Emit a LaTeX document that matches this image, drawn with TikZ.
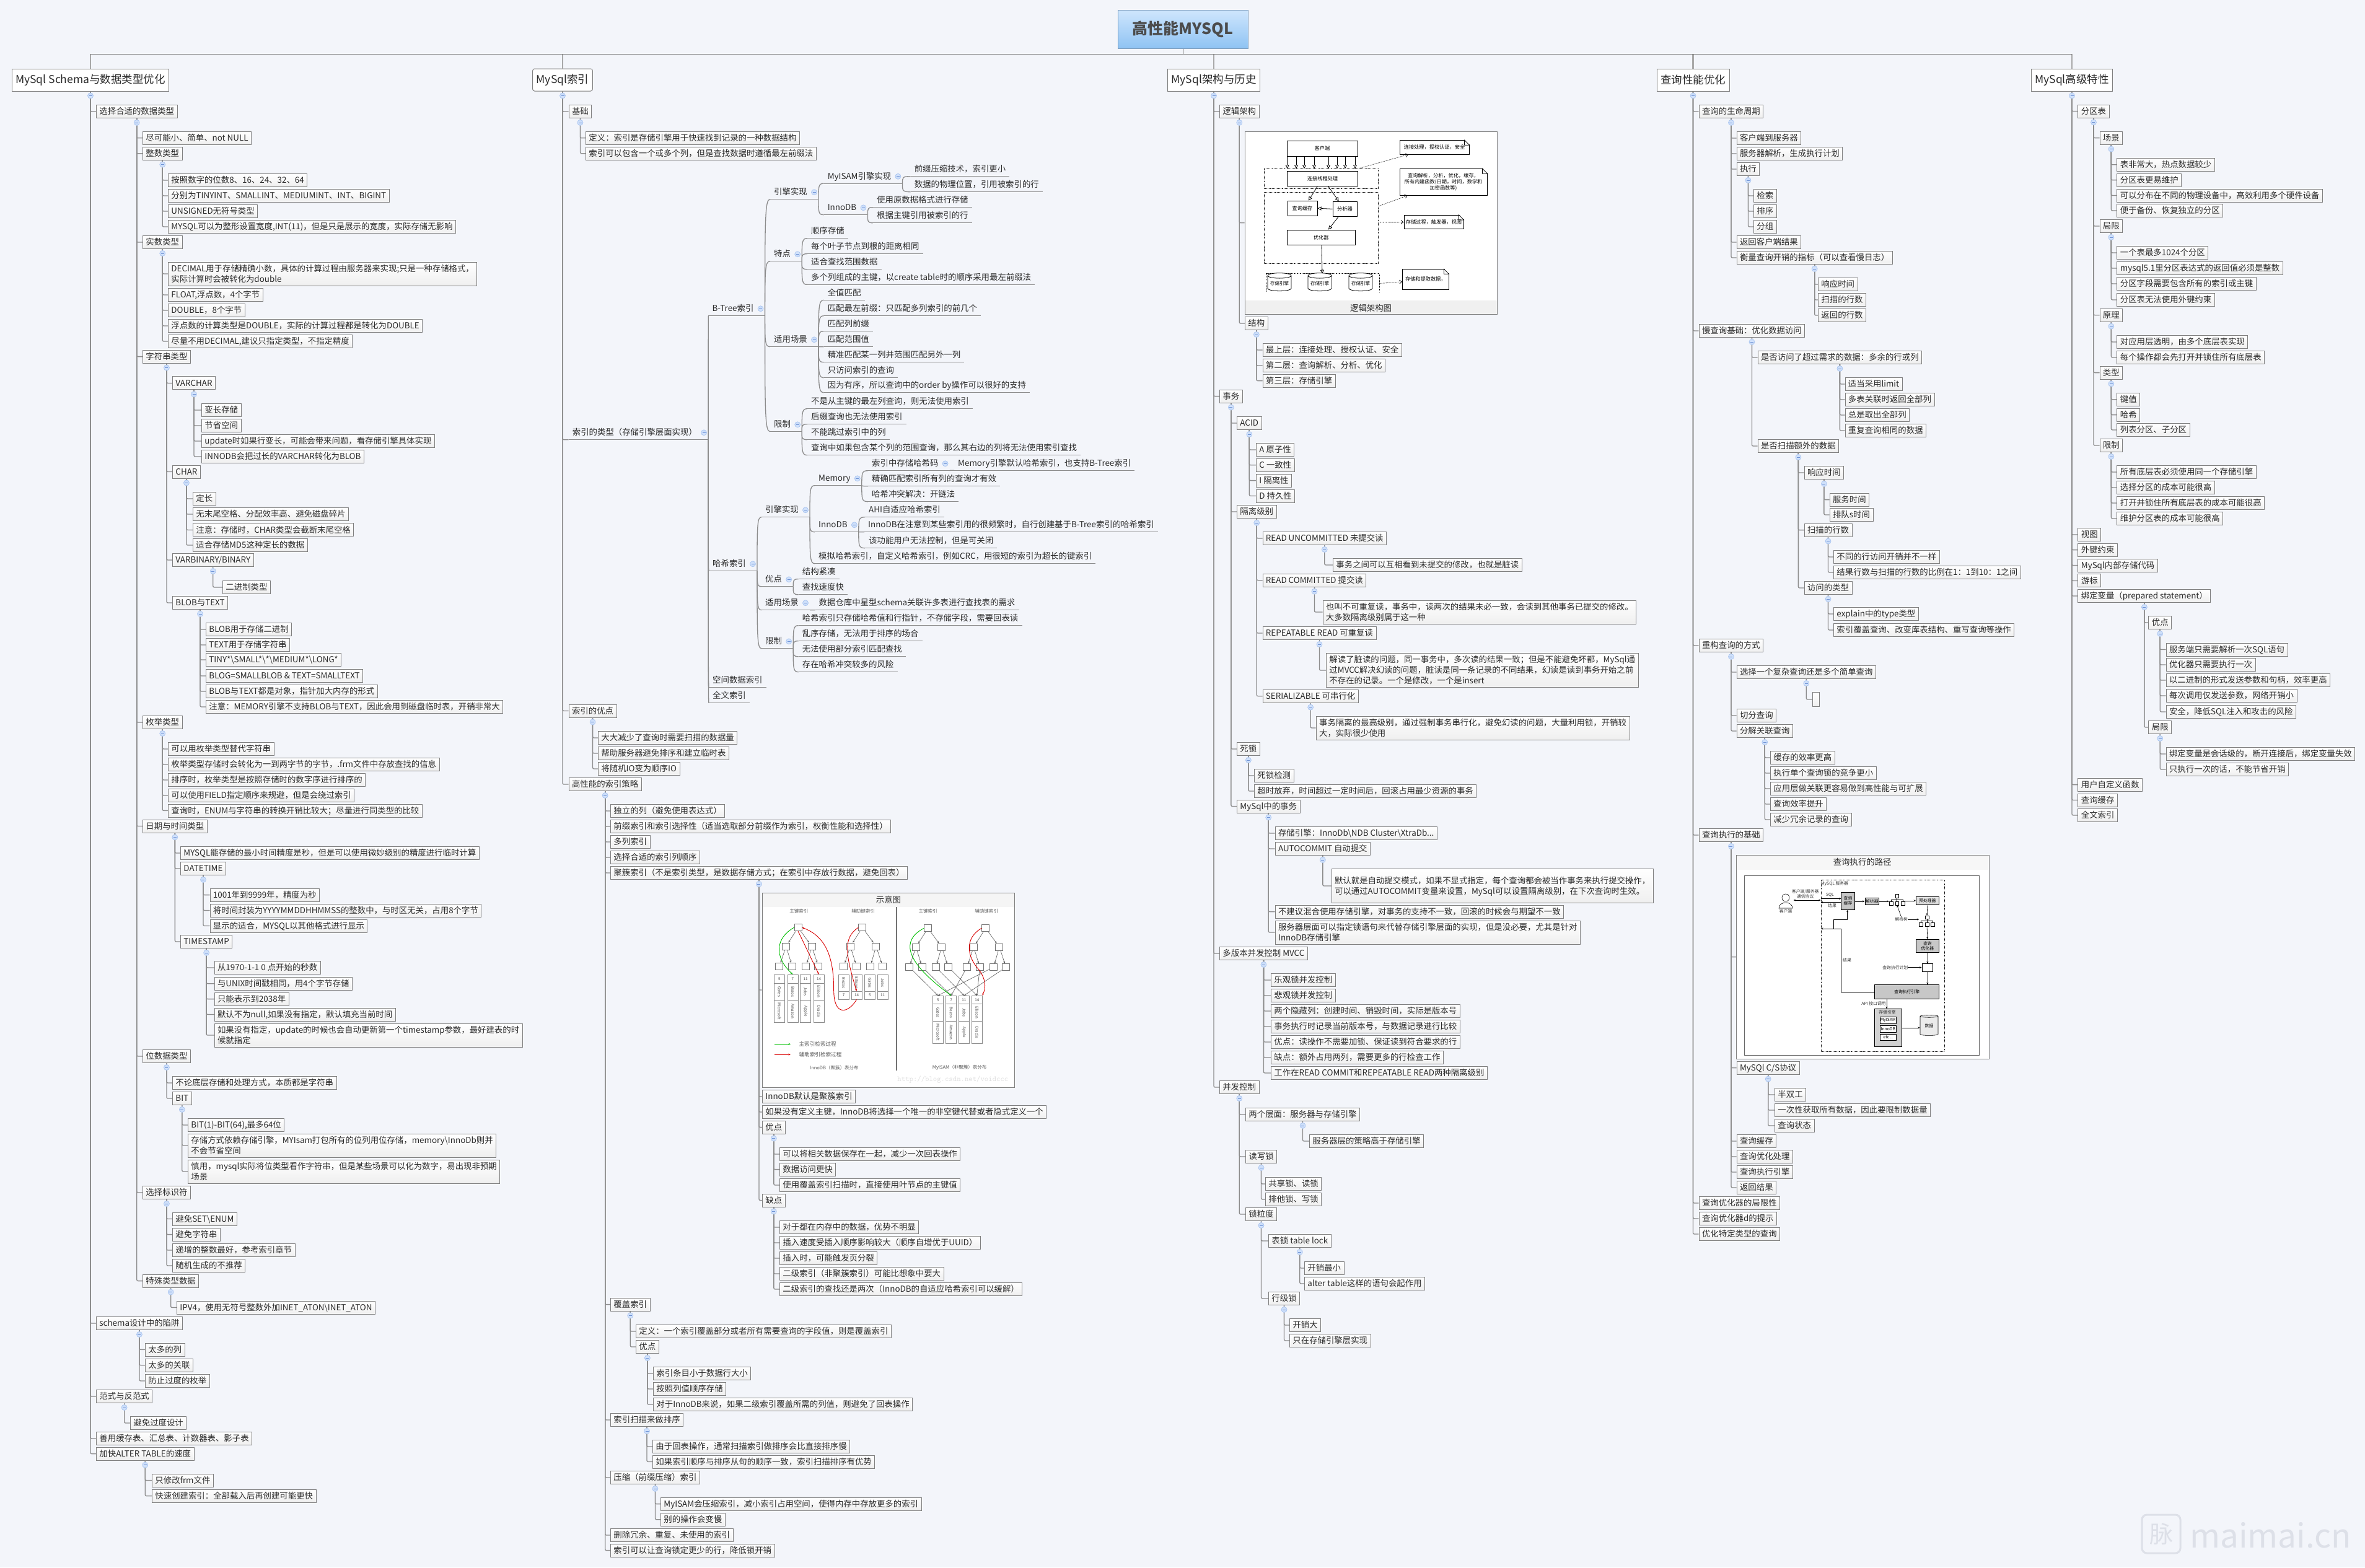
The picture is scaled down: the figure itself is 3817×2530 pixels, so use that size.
\documentclass[tikz,border=0pt]{standalone}
\usepackage{fontspec}
\setmainfont{Noto Sans CJK SC}
\usepackage{graphicx}
\usetikzlibrary{calc,arrows.meta,shapes.geometric}
\definecolor{pagebg}{HTML}{F3F5FA}
\definecolor{boxline}{HTML}{7F7F7F}
\definecolor{boxlow}{HTML}{EFEFEF}
\definecolor{linkgray}{HTML}{8C8C8C}
\definecolor{stubgray}{HTML}{A8A8A8}
\definecolor{inktext}{HTML}{2A2A2A}
\definecolor{rootup}{HTML}{CFE6FD}
\definecolor{rootlow}{HTML}{8FC3F3}
\definecolor{rootline}{HTML}{7E9EBE}
\definecolor{tglfill}{HTML}{CFE0FA}
\definecolor{tgldraw}{HTML}{A8C4F0}
\definecolor{tglbar}{HTML}{6F93D6}
\definecolor{markgray}{HTML}{DDE0E8}
\def\bodyfont{\fontsize{13.4}{17}\selectfont}
\def\headfont{\fontsize{17.5}{21}\selectfont}
\def\picfont{\fontsize{8.2}{10}\selectfont}
\def\minifont{\fontsize{6.8}{8}\selectfont}
\def\lnstrut{\rule[-3.6pt]{0pt}{17pt}}
\def\tg{\hspace*{12pt}}
\def\bs{\textbackslash{}}
\tikzset{
	link/.style={draw=linkgray,line width=1.3pt,rounded corners=2pt},
	buslink/.style={draw=black!55,line width=1pt},
	stublink/.style={draw=stubgray,line width=2.2pt},
	headbox/.style={draw=boxline,fill=white,line width=1pt,font=\headfont,text=inktext,inner xsep=6pt,minimum height=36pt},
	leafbox/.style={anchor=west,draw=boxline,top color=white,bottom color=boxlow,line width=.9pt,align=left,font=\bodyfont,text=inktext,inner xsep=5pt,inner ysep=2pt},
	twigtext/.style={anchor=west,xshift=-6pt,inner xsep=6pt,inner ysep=0pt,minimum height=23pt,font=\bodyfont,text=inktext},
	tgl/.style={circle,draw=tgldraw,fill=tglfill,line width=.7pt,minimum size=9pt,inner sep=0pt},
	tgmark/.style={draw=tglbar,line width=.8pt},
	blk/.style={draw,line width=.9pt,fill=white,inner sep=0pt,font=\picfont,align=center},
	frameblk/.style={draw=boxline,line width=1pt,fill=white},
	dotblk/.style={draw,densely dotted,line width=.7pt,fill=none},
	grayblk/.style={fill=black!22,line width=.7pt,font=\minifont},
	opentip/.style={line width=.8pt,-{Triangle[open,length=6pt,width=6pt]}},
	dashtip/.style={densely dotted,line width=.7pt,-{Straight Barb[length=4pt,width=6pt]}},
	thintip/.style={line width=.6pt,-{Stealth[length=3.5pt,width=3pt]}},
	minitext/.style={font=\minifont,inner sep=0pt,align=center,text=black!80},
	sketchtext/.style={font=\fontsize{7.5}{9}\selectfont,inner sep=0pt,align=center,text=black!65},
	sq/.style={draw=black!55,fill=white,line width=1pt,minimum width=12pt,minimum height=11pt,inner sep=0pt},
	cell/.style={draw=black!45,fill=white,line width=.6pt,minimum width=17pt,inner sep=0pt,font=\fontsize{6.3}{7}\selectfont,text=black!70},
	cyl/.style={cylinder,shape border rotate=90,draw,fill=white,line width=.8pt,aspect=.28,inner sep=0pt,font=\fontsize{7.5}{8}\selectfont},
}
% child in a box, elbow from the parent
\newcommand{\kid}[6][]{%
	\node[leafbox,#1] (#3) at (#4,#5) {\lnstrut#6\lnstrut};
	\draw[link] (#2.south) |- (#3.west);}
% child sitting on a line, curve from the parent
\newcommand{\twig}[6][]{%
	\node[twigtext,#1] (#3) at (#4,#5) {\lnstrut#6\lnstrut};
	\draw[link] (#3.south west) -- (#3.south east);
	\draw[link] (#2.south east) .. controls ($(#2.south east)!.85!(#2.south east |- #3.south west)$) and (#2.south east |- #3.south west) .. (#3.south west);}
% block given by two corners
\newcommand{\blok}[6][]{%
	\node[blk,#1,minimum width={(#4-#2)*1pt},minimum height={(#5-#3)*1pt}] (#6) at ({(#2+#4)/2},{(#3+#5)/2}) {};}
\newcommand{\blokt}[7][]{%
	\node[blk,#1,minimum width={(#4-#2)*1pt},minimum height={(#5-#3)*1pt}] (#6) at ({(#2+#4)/2},{(#3+#5)/2}) {#7};}
% note with a folded corner
\newcommand{\noted}[6]{%
	\blokt{#1}{#2}{#3}{#4}{#5}{#6}
	\fill[white] ($(#5.north east)+(-8,-1)$) -- ($(#5.north east)+(1,-1)$) -- ($(#5.north east)+(1,8)$) -- cycle;
	\draw[line width=.7pt] ($(#5.north east)+(-8,0)$) -- ($(#5.north east)+(0,8)$) -- ($(#5.north east)+(-8,8)$) -- cycle;}
% small index tree of the sketch
\newcommand{\btree}[3]{%
	\node[sq] (#1r) at (#2,#3) {};
	\node[sq] (#1l) at ({#2-29},{#3+56}) {};
	\node[sq] (#1m) at ({#2+33},{#3+56}) {};
	\node[sq] (#1a) at ({#2-45},{#3+116}) {};
	\node[sq] (#1b) at ({#2-14},{#3+116}) {};
	\node[sq] (#1c) at ({#2+19},{#3+116}) {};
	\node[sq] (#1d) at ({#2+49},{#3+116}) {};
	\foreach \s/\e in {r/l,r/m,l/a,l/b,m/c,m/d}
		\draw[thintip,black!65] (#1\s) -- (#1\e);}
\newcommand{\cellt}[6][]{%
	\node[cell,#1,minimum height={(#5-#4)*.542pt}] (#2) at (#3,{(#4+#5)/2}) {#6};}
\newcommand{\vtext}[1]{\rotatebox{-90}{#1}}
% little org tree of the query path
\newcommand{\smalltree}[3]{%
	\node[blk,minimum size=5.5pt,line width=.5pt] (#1t) at (#2,#3) {};
	\node[blk,minimum size=5.5pt,line width=.5pt] (#1a) at ({#2-9.7},{#3+11.6}) {};
	\node[blk,minimum size=5.5pt,line width=.5pt] (#1b) at (#2,{#3+11.6}) {};
	\node[blk,minimum size=5.5pt,line width=.5pt] (#1c) at ({#2+9.4},{#3+11.6}) {};
	\draw[line width=.5pt] (#1t) -- (#1b);
	\draw[line width=.5pt] (#1a) |- ($(#1t)!.5!(#1b)$) -| (#1c);}
\begin{document}
\begin{tikzpicture}[x=1pt,y=-1pt]
	\useasboundingbox (0,0) rectangle (3817,2530);
	\fill[pagebg] (0,0) rectangle (3817,2530);
	%
	\node[draw=rootline,top color=rootup,bottom color=rootlow,line width=1pt,minimum width=210pt,minimum height=62pt,font=\fontsize{25}{30}\selectfont\bfseries,text=black!70] (root) at (1909,47) {高性能MYSQL};
	\coordinate (bus) at (1909,87);
	\node[headbox] (a) at (146,129) {MySql Schema与数据类型优化};
	\node[headbox,rounded corners=3pt] (b) at (908,129) {MySql索引};
	\node[headbox] (c) at (1959,129) {MySql架构与历史};
	\node[headbox] (d) at (2732.5,129) {查询性能优化};
	\node[headbox] (e) at (3344,129) {MySql高级特性};
	\foreach \n in {a,b,c,d,e}
		\draw[stublink] (bus -| \n.north) -- (\n.north);
	\draw[buslink] (root.south) -- (bus);
	\draw[buslink] (bus -| a.north) -- (bus -| e.north);
	% schema
	\kid{a}{a1}{155}{180}{选择合适的数据类型}
	\kid{a1}{a11}{230}{222.8}{尽可能小、简单、not NULL}
	\kid{a1}{a12}{230}{247.7}{整数类型}
	\kid{a12}{a121}{271}{291}{按照数字的位数8、16、24、32、64}
	\kid{a12}{a122}{271}{316}{分别为TINYINT、SMALLINT、MEDIUMINT、INT、BIGINT}
	\kid{a12}{a123}{271}{341}{UNSIGNED无符号类型}
	\kid{a12}{a124}{271}{366}{MYSQL可以为整形设置宽度,INT(11)，但是只是展示的宽度，实际存储无影响}
	\kid{a1}{a13}{230}{391}{实数类型}
	\kid{a13}{a131}{271}{442}{DECIMAL用于存储精确小数，具体的计算过程由服务器来实现;只是一种存储格式，\\实际计算时会被转化为double}
	\kid{a13}{a132}{271}{476}{FLOAT,浮点数，4个字节}
	\kid{a13}{a133}{271}{501}{DOUBLE，8个字节}
	\kid{a13}{a134}{271}{526}{浮点数的计算类型是DOUBLE，实际的计算过程都是转化为DOUBLE}
	\kid{a13}{a135}{271}{551}{尽量不用DECIMAL,建议只指定类型，不指定精度}
	\kid{a1}{a14}{230}{575.6}{字符串类型}
	\kid{a14}{a141}{278}{618.4}{VARCHAR}
	\kid{a141}{a1411}{325}{662}{变长存储}
	\kid{a141}{a1412}{325}{687}{节省空间}
	\kid{a141}{a1413}{325}{712}{update时如果行变长，可能会带来问题，看存储引擎具体实现}
	\kid{a141}{a1414}{325}{737}{INNODB会把过长的VARCHAR转化为BLOB}
	\kid{a14}{a142}{278}{761.5}{CHAR}
	\kid{a142}{a1421}{311}{805}{定长}
	\kid{a142}{a1422}{311}{830}{无末尾空格、分配效率高、避免磁盘碎片}
	\kid{a142}{a1423}{311}{855.4}{注意：存储时，CHAR类型会截断末尾空格}
	\kid{a142}{a1424}{311}{880}{适合存储MD5这种定长的数据}
	\kid{a14}{a143}{278}{904}{VARBINARY/BINARY}
	\kid{a143}{a1431}{359}{948}{二进制类型}
	\kid{a14}{a144}{278}{973}{BLOB与TEXT}
	\kid{a144}{a1441}{332}{1016}{BLOB用于存储二进制}
	\kid{a144}{a1442}{332}{1041}{TEXT用于存储字符串}
	\kid{a144}{a1443}{332}{1065}{TINY*\bs SMALL*\bs *\bs MEDIUM*\bs LONG*}
	\kid{a144}{a1444}{332}{1091}{BLOG=SMALLBLOB \& TEXT=SMALLTEXT}
	\kid{a144}{a1445}{332}{1116}{BLOB与TEXT都是对象，指针加大内存的形式}
	\kid{a144}{a1446}{332}{1141}{注意：MEMORY引擎不支持BLOB与TEXT，因此会用到磁盘临时表，开销非常大}
	\kid{a1}{a15}{230}{1166}{枚举类型}
	\kid{a15}{a151}{271}{1209}{可以用枚举类型替代字符串}
	\kid{a15}{a152}{271}{1234}{枚举类型存储时会转化为一到两字节的字节，.frm文件中存放查找的信息}
	\kid{a15}{a153}{271}{1259}{排序时，枚举类型是按照存储时的数字序进行排序的}
	\kid{a15}{a154}{271}{1284}{可以使用FIELD指定顺序来规避，但是会绕过索引}
	\kid{a15}{a155}{271}{1308.5}{查询时，ENUM与字符串的转换开销比较大；尽量进行同类型的比较}
	\kid{a1}{a16}{230}{1333.5}{日期与时间类型}
	\kid{a16}{a161}{291}{1377}{MYSQL能存储的最小时间精度是秒，但是可以使用微妙级别的精度进行临时计算}
	\kid{a16}{a162}{291}{1402}{DATETIME}
	\kid{a162}{a1621}{338.5}{1444.6}{1001年到9999年，精度为秒}
	\kid{a162}{a1622}{338.5}{1469.5}{将时间封装为YYYYMMDDHHMMSS的整数中，与时区无关，占用8个字节}
	\kid{a162}{a1623}{338.5}{1494.5}{显示的适合，MYSQL以其他格式进行显示}
	\kid{a16}{a163}{291}{1520}{TIMESTAMP}
	\kid{a163}{a1631}{345.6}{1562}{从1970-1-1 0 点开始的秒数}
	\kid{a163}{a1632}{345.6}{1587.7}{与UNIX时间戳相同，用4个字节存储}
	\kid{a163}{a1633}{345.6}{1612.6}{只能表示到2038年}
	\kid{a163}{a1634}{345.6}{1637.5}{默认不为null,如果没有指定，默认填充当前时间}
	\kid{a163}{a1635}{345.6}{1671}{如果没有指定，update的时候也会自动更新第一个timestamp参数，最好建表的时\\候就指定}
	\kid{a1}{a17}{230}{1705}{位数据类型}
	\kid{a17}{a171}{278}{1748}{不论底层存储和处理方式，本质都是字符串}
	\kid{a17}{a172}{278}{1773}{BIT}
	\kid{a172}{a1721}{303}{1816}{BIT(1)-BIT(64),最多64位}
	\kid{a172}{a1722}{303}{1849}{存储方式依赖存储引擎，MYIsam打包所有的位列用位存储，memory\bs InnoDb则并\\不会节省空间}
	\kid{a172}{a1723}{303}{1891}{慎用，mysql实际将位类型看作字符串，但是某些场景可以化为数字，易出现非预期\\场景}
	\kid{a1}{a18}{230}{1925}{选择标识符}
	\kid{a18}{a181}{278}{1967.5}{避免SET\bs ENUM}
	\kid{a18}{a182}{278}{1992.6}{避免字符串}
	\kid{a18}{a183}{278}{2018}{递增的整数最好，参考索引章节}
	\kid{a18}{a184}{278}{2043}{随机生成的不推荐}
	\kid{a1}{a19}{230}{2067.6}{特殊类型数据}
	\kid{a19}{a191}{285}{2110.5}{IPV4，使用无符号整数外加INET\_ATON\bs INET\_ATON}
	\kid{a}{a2}{155}{2136}{schema设计中的陷阱}
	\kid{a2}{a21}{234}{2178.5}{太多的列}
	\kid{a2}{a22}{234}{2203.7}{太多的关联}
	\kid{a2}{a23}{234}{2229}{防止过度的枚举}
	\kid{a}{a3}{155}{2254}{范式与反范式}
	\kid{a3}{a31}{210}{2297}{避免过度设计}
	\kid{a}{a4}{155}{2322}{善用缓存表、汇总表、计数器表、影子表}
	\kid{a}{a5}{155}{2346.7}{加快ALTER TABLE的速度}
	\kid{a5}{a51}{245}{2389.5}{只修改frm文件}
	\kid{a5}{a52}{245}{2414.7}{快速创建索引：全部载入后再创建可能更快}
	% index
	\kid{b}{b1}{917.6}{180}{基础}
	\kid{b1}{b11}{945}{222.8}{定义：索引是存储引擎用于快速找到记录的一种数据结构}
	\kid{b1}{b12}{945}{247.7}{索引可以包含一个或多个列，但是查找数据时遵循最左前缀法}
	\node[twigtext] (b2) at (923.7,698) {\lnstrut 索引的类型（存储引擎层面实现）\tg\lnstrut};
	\draw[link] (b2.south west) -- (b2.south east);
	\draw[link] (b.south) |- (b2.south west);
	\twig{b2}{b21}{1149.4}{498}{B-Tree索引\tg}
	\twig{b21}{b211}{1249}{310}{引擎实现\tg}
	\twig{b211}{b2111}{1335.6}{284.5}{MyISAM引擎实现\tg}
	\twig{b2111}{b21111}{1475.6}{273}{前缀压缩技术，索引更小}
	\twig{b2111}{b21112}{1475.6}{298}{数据的物理位置，引用被索引的行}
	\twig{b211}{b2112}{1335.6}{335}{InnoDB\tg}
	\twig{b2112}{b21121}{1415}{323}{使用原数据格式进行存储}
	\twig{b2112}{b21122}{1415}{348}{根据主键引用被索引的行}
	\twig{b21}{b212}{1249}{410}{特点\tg}
	\twig{b212}{b2121}{1309}{373}{顺序存储}
	\twig{b212}{b2122}{1309}{398}{每个叶子节点到根的距离相同}
	\twig{b212}{b2123}{1309}{423}{适合查找范围数据}
	\twig{b212}{b2124}{1309}{447.7}{多个列组成的主键，以create table时的顺序采用最左前缀法}
	\twig{b21}{b213}{1249}{548}{适用场景\tg}
	\twig{b213}{b2131}{1335.6}{472.6}{全值匹配}
	\twig{b213}{b2132}{1335.6}{498}{匹配最左前缀：只匹配多列索引的前几个}
	\twig{b213}{b2133}{1335.6}{523}{匹配列前缀}
	\twig{b213}{b2134}{1335.6}{548}{匹配范围值}
	\twig{b213}{b2135}{1335.6}{573}{精准匹配某一列并范围匹配另外一列}
	\twig{b213}{b2136}{1335.6}{598}{只访问索引的查询}
	\twig{b213}{b2137}{1335.6}{622}{因为有序，所以查询中的order by操作可以很好的支持}
	\twig{b21}{b214}{1249}{685}{限制\tg}
	\twig{b214}{b2141}{1309}{648}{不是从主键的最左列查询，则无法使用索引}
	\twig{b214}{b2142}{1309}{673}{后缀查询也无法使用索引}
	\twig{b214}{b2143}{1309}{698}{不能跳过索引中的列}
	\twig{b214}{b2144}{1309}{723}{查询中如果包含某个列的范围查询，那么其右边的列将无法使用索引查找}
	\twig{b2}{b22}{1150}{910}{哈希索引\tg}
	\twig{b22}{b221}{1235}{823}{引擎实现\tg}
	\twig{b221}{b2211}{1321}{772}{Memory\tg}
	\twig{b2211}{b22111}{1407}{748}{索引中存储哈希码\tg}
	\twig{b22111}{b221111}{1546}{747.5}{Memory引擎默认哈希索引，也支持B-Tree索引}
	\twig{b2211}{b22112}{1407}{773}{精确匹配索引所有列的查询才有效}
	\twig{b2211}{b22113}{1407}{798}{哈希冲突解决：开链法}
	\twig{b221}{b2212}{1321}{847}{InnoDB\tg}
	\twig{b2212}{b22121}{1402}{823}{AHI自适应哈希索引}
	\twig{b2212}{b22122}{1401}{847}{InnoDB在注意到某些索引用的很频繁时，自行创建基于B-Tree索引的哈希索引}
	\twig{b2212}{b22123}{1402}{873}{该功能用户无法控制，但是可关闭}
	\twig{b221}{b2213}{1321}{898}{模拟哈希索引，自定义哈希索引，例如CRC，用很短的索引为超长的键索引}
	\twig{b22}{b222}{1235}{935}{优点\tg}
	\twig{b222}{b2221}{1294.7}{923}{结构紧凑}
	\twig{b222}{b2222}{1294.7}{948}{查找速度快}
	\twig{b22}{b223}{1235}{973}{适用场景\tg}
	\twig{b223}{b2231}{1321.5}{973}{数据仓库中星型schema关联许多表进行查找表的需求}
	\twig{b22}{b224}{1235}{1035}{限制\tg}
	\twig{b224}{b2241}{1294.7}{998}{哈希索引只存储哈希值和行指针，不存储字段，需要回表读}
	\twig{b224}{b2242}{1294.7}{1023}{乱序存储，无法用于排序的场合}
	\twig{b224}{b2243}{1294.7}{1048}{无法使用部分索引匹配查找}
	\twig{b224}{b2244}{1294.7}{1073}{存在哈希冲突较多的风险}
	\twig{b2}{b23}{1150}{1098}{空间数据索引}
	\twig{b2}{b24}{1150}{1123}{全文索引}
	\kid{b}{b3}{917.6}{1147.5}{索引的优点}
	\kid{b3}{b31}{965}{1191}{大大减少了查询时需要扫描的数据量}
	\kid{b3}{b32}{965}{1216}{帮助服务器避免排序和建立临时表}
	\kid{b3}{b33}{965}{1241}{将随机IO变为顺序IO}
	\kid{b}{b4}{917.6}{1266}{高性能的索引策略}
	\kid{b4}{b41}{985}{1309}{独立的列（避免使用表达式）}
	\kid{b4}{b42}{985}{1334}{前缀索引和索引选择性（适当选取部分前缀作为索引，权衡性能和选择性）}
	\kid{b4}{b43}{985}{1359}{多列索引}
	\kid{b4}{b44}{985}{1384}{选择合适的索引列顺序}
	\kid{b4}{b45}{985}{1409}{聚簇索引（不是索引类型，是数据存储方式；在索引中存放行数据，避免回表）}
	% sketch of clustered and secondary trees
	\blok[frameblk]{1230}{1441}{1637.7}{1755}{b451}
	\draw[link] (b45.south) |- (b451.west);
	\fill[black!4] (1231,1442) rectangle (1637,1464);
	\node[font=\bodyfont,text=inktext,inner sep=0pt] (b451t) at (1434,1452) {示意图};
	\begin{scope}[shift={(850,850)},x=.6698pt,y=-.542pt]
		\draw[black!55,line width=1.4pt] (891,1133) -- (891,1619) coordinate (split);
		\node[sketchtext] (h1) at (656,1145) {主键索引};
		\node[sketchtext] (h2) at (811,1145) {辅助键索引};
		\node[sketchtext] (h3) at (967,1145) {主键索引};
		\node[sketchtext] (h4) at (1108,1145) {辅助键索引};
		\btree{ta}{654}{1194}
		\btree{tb}{809}{1194}
		\btree{tc}{967}{1196}
		\btree{td}{1106}{1196}
		% rows under the trees
		\foreach \k/\x/\nr/\nm/\co in {1/609/5/Gates/Microsoft,2/641/7/Bezos/Amazon,3/672/11/Jobs/Apple,4/704/14/Ellison/Oracle}{
			\cellt{pa\k}{\x}{1334}{1360}{\nr}
			\cellt{pb\k}{\x}{1360}{1410}{\vtext{\nm}}
			\cellt{pc\k}{\x}{1410}{1476}{\vtext{\co}}
		}
		\foreach \k/\x/\nm/\nr in {1/764/Bezos/7,2/795/Ellison/14,3/827/Gates/5,4/858/Jobs/11}{
			\cellt{qa\k}{\x}{1334}{1384}{\vtext{\nm}}
			\cellt{qb\k}{\x}{1384}{1408}{\nr}
		}
		\foreach \k/\x/\nr/\nm/\co in {1/991/5/Gates/Microsoft,2/1023/7/Bezos/Amazon,3/1054/11/Jobs/Apple,4/1085/14/Ellison/Oracle}{
			\cellt{ra\k}{\x}{1397}{1422}{\nr}
			\cellt{rb\k}{\x}{1422}{1472}{\vtext{\nm}}
			\cellt{rc\k}{\x}{1472}{1540}{\vtext{\co}}
		}
		\foreach \s/\e in {a/1,b/2,c/3,d/4}
			\draw[thintip,black!65] (tc\s) -- (ra\e.north);
		\foreach \s/\e in {a/2,b/4,c/1,d/3}
			\draw[thintip,black!65] (td\s) -- (ra\e.north);
		% lookup paths
		\draw[thintip,green!75!black,line width=.9pt] (tar.west) .. controls (600,1225) and (595,1280) .. (pa2.north);
		\draw[thintip,red!85!black,line width=.9pt] (tar.south) .. controls (672,1250) and (685,1285) .. (pa4.north);
		\draw[thintip,red!85!black,line width=.9pt] (tbr.west) .. controls (760,1225) and (770,1280) .. (qb2.north);
		\draw[thintip,red!85!black,line width=.9pt] (qb2.south) .. controls (775,1450) and (740,1460) .. (740,1380) .. controls (740,1280) and (720,1220) .. (tar.east);
		\draw[thintip,green!75!black,line width=.9pt] (tcr.west) .. controls (905,1230) and (905,1290) .. (ra2.north);
		\draw[thintip,red!85!black,line width=.9pt] (tdr.west) .. controls (1055,1225) and (1060,1280) .. (1090,1320) .. controls (1105,1345) and (1108,1370) .. (ra4.north east);
		% legend
		\coordinate (lg1) at (597,1541);
		\coordinate (lg2) at (597,1572);
		\draw[thintip,green!75!black,line width=1pt] (lg1) -- ++(39,0);
		\draw[thintip,red!85!black,line width=1pt] (lg2) -- ++(39,0);
		\node[sketchtext,anchor=west,font=\fontsize{8.6}{10}\selectfont] (l1) at (656,1541) {主索引检索过程};
		\node[sketchtext,anchor=west,font=\fontsize{8.6}{10}\selectfont] (l2) at (656,1572) {辅助索引检索过程};
		\node[sketchtext] (l3) at (741,1611) {InnoDB（聚簇）表分布};
		\node[sketchtext] (l4) at (1043,1611) {MyISAM（非聚簇）表分布};
		\node[sketchtext,text=black!12,font=\fontsize{12.4}{14}\ttfamily] (l5) at (1027,1647) {http://blog.csdn.net/voidccc};
	\end{scope}
	\kid{b45}{b452}{1230}{1770}{InnoDB默认是聚簇索引}
	\kid{b45}{b453}{1230}{1795}{如果没有定义主键，InnoDB将选择一个唯一的非空键代替或者隐式定义一个}
	\kid{b45}{b454}{1230}{1819.6}{优点}
	\kid{b454}{b4541}{1258}{1863}{可以将相关数据保存在一起，减少一次回表操作}
	\kid{b454}{b4542}{1258}{1887.6}{数据访问更快}
	\kid{b454}{b4543}{1258}{1913}{使用覆盖索引扫描时，直接使用叶节点的主键值}
	\kid{b45}{b455}{1230}{1937.5}{缺点}
	\kid{b455}{b4551}{1258}{1981}{对于都在内存中的数据，优势不明显}
	\kid{b455}{b4552}{1258}{2006}{插入速度受插入顺序影响较大（顺序自增优于UUID）}
	\kid{b455}{b4553}{1258}{2031}{插入时，可能触发页分裂}
	\kid{b455}{b4554}{1258}{2056}{二级索引（非聚簇索引）可能比想象中要大}
	\kid{b455}{b4555}{1258}{2081}{二级索引的查找还是两次（InnoDB的自适应哈希索引可以缓解）}
	\kid{b4}{b46}{985}{2105.6}{覆盖索引}
	\kid{b46}{b461}{1026}{2149}{定义：一个索引覆盖部分或者所有需要查询的字段值，则是覆盖索引}
	\kid{b46}{b462}{1026}{2174}{优点}
	\kid{b462}{b4621}{1054}{2217}{索引条目小于数据行大小}
	\kid{b462}{b4622}{1054}{2242}{按照列值顺序存储}
	\kid{b462}{b4623}{1054}{2267}{对于InnoDB来说，如果二级索引覆盖所需的列值，则避免了回表操作}
	\kid{b4}{b47}{985}{2292}{索引扫描来做排序}
	\kid{b47}{b471}{1053}{2335}{由于回表操作，通常扫描索引做排序会比直接排序慢}
	\kid{b47}{b472}{1053}{2359.5}{如果索引顺序与排序从句的顺序一致，索引扫描排序有优势}
	\kid{b4}{b48}{985}{2385}{压缩（前缀压缩）索引}
	\kid{b48}{b481}{1066}{2427.6}{MyISAM会压缩索引，减小索引占用空间，使得内存中存放更多的索引}
	\kid{b48}{b482}{1066}{2452.7}{别的操作会变慢}
	\kid{b4}{b49}{985}{2478}{删除冗余、重复、未使用的索引}
	\kid{b4}{b4a}{985}{2502.5}{索引可以让查询锁定更少的行，降低锁开销}
	% architecture
	\kid{c}{c1}{1968}{180}{逻辑架构}
	\blok[frameblk]{2009}{212.5}{2416}{507}{c11}
	\draw[link] (c1.south) |- (c11.west);
	\fill[black!6] (2010,485) rectangle (2415.5,506.5);
	\node[font=\bodyfont,text=inktext,inner sep=0pt] (c11t) at (2212.6,497) {逻辑架构图};
	\blokt{2077}{227}{2191}{252}{kh}{客户端}
	\blok[dotblk]{2040}{272.6}{2224.5}{304.6}{fc}
	\blokt{2077.6}{276.4}{2191.5}{300.8}{lj}{连接线程处理}
	\blok[dotblk]{2040}{310.6}{2224.5}{425.5}{fs}
	\blokt{2078}{324}{2126}{348.5}{qc}{查询缓存}
	\blokt{2151}{325}{2190}{349.6}{fx}{分析器}
	\blokt{2077.6}{371}{2187}{395.7}{yh}{优化器}
	\foreach \x in {2077.6,2092,2105,2121,2144,2158,2171,2187}
		\draw[opentip] (\x,0 |- kh.south) -- (\x,0 |- fc.north);
	\draw[opentip] (2126,0 |- lj.south) -- (2112,0 |- qc.north);
	\draw[opentip] (2144,0 |- lj.south) -- (2160.6,0 |- fx.north);
	\draw[opentip] (fx.west) -- (qc.east);
	\draw[opentip] (2160,0 |- fx.south) -- (2144,0 |- yh.north);
	\draw[densely dotted,line width=.7pt] (2226.7,471.5) |- (2043.5,441.7) coordinate (fe) -- (2043.5,471.5);
	\draw[opentip] (2133,0 |- yh.south) -- (2134,0 |- fe);
	\node[cyl,minimum height=29pt,minimum width=38pt] (e1c) at (2065,457.5) {存储引擎};
	\node[cyl,minimum height=29pt,minimum width=38pt] (e2c) at (2130,457.5) {存储引擎};
	\node[cyl,minimum height=29pt,minimum width=38pt] (e3c) at (2196,457.5) {存储引擎};
	\fill[white] (2040,471.8) rectangle (2230,476);
	\noted{2259}{226.6}{2371}{249}{n1}{连接处理，授权认证，安全}
	\noted{2259}{272.6}{2400}{315}{n2}{查询解析，分析，优化，缓存，\\所有内建函数(日期，时间，数学和\\加密函数等)}
	\noted{2266}{347.4}{2362}{369.6}{n3}{存储过程，触发器，视图}
	\noted{2263.6}{434.7}{2338}{467}{n4}{存储和提取数据，}
	\draw[dashtip] (fc.north east -| kh.south east) -- (2273,0 |- n1.south);
	\draw[dashtip] (fs.east |- 0,333) -- (2271.7,0 |- n2.south);
	\draw[dashtip] (fs.east |- n3.west) -- (n3.west);
	\draw[dashtip] (2227,457.5) -- (n4.west |- 0,454.7);
	\kid{c1}{c12}{2009}{522}{结构}
	\kid{c12}{c121}{2037.5}{565}{最上层：连接处理、授权认证、安全}
	\kid{c12}{c122}{2037.5}{590}{第二层：查询解析、分析、优化}
	\kid{c12}{c123}{2037.5}{614.6}{第三层：存储引擎}
	\kid{c}{c2}{1968}{639.6}{事务}
	\kid{c2}{c21}{1996}{683}{ACID}
	\kid{c21}{c211}{2027}{726}{A 原子性}
	\kid{c21}{c212}{2027}{750.7}{C 一致性}
	\kid{c21}{c213}{2027}{775.6}{I 隔离性}
	\kid{c21}{c214}{2027}{800.5}{D 持久性}
	\kid{c2}{c22}{1996}{826}{隔离级别}
	\kid{c22}{c221}{2037.5}{869}{READ UNCOMMITTED 未提交读}
	\kid{c221}{c2211}{2151}{912}{事务之间可以互相看到未提交的修改，也就是脏读}
	\kid{c22}{c222}{2037.5}{936.7}{READ COMMITTED 提交读}
	\kid{c222}{c2221}{2134.5}{988}{也叫不可重复读，事务中，读两次的结果未必一致，会读到其他事务已提交的修改。\\大多数隔离级别属于这一种}
	\kid{c22}{c223}{2037.5}{1022}{REPEATABLE READ 可重复读}
	\kid{c223}{c2231}{2140}{1082}{解读了脏读的问题，同一事务中，多次读的结果一致；但是不能避免坏都，MySql通\\过MVCC解决幻读的问题，脏读是同一条记录的不同结果，幻读是读到事务开始之前\\不存在的记录。一个是修改，一个是insert}
	\kid{c22}{c224}{2037.5}{1123.7}{SERIALIZABLE 可串行化}
	\kid{c224}{c2241}{2123.7}{1175}{事务隔离的最高级别，通过强制事务串行化，避免幻读的问题，大量利用锁，开销较\\大，实际很少使用}
	\kid{c2}{c23}{1996}{1209}{死锁}
	\kid{c23}{c231}{2024}{1252}{死锁检测}
	\kid{c23}{c232}{2024}{1277}{超时放弃，时间超过一定时间后，回滚占用最少资源的事务}
	\kid{c2}{c24}{1996}{1301.5}{MySql中的事务}
	\kid{c24}{c241}{2057.6}{1345}{存储引擎：InnoDb\bs NDB Cluster\bs XtraDb...}
	\kid{c24}{c242}{2057.6}{1370}{AUTOCOMMIT 自动提交}
	\kid[minimum height=55pt]{c242}{c2421}{2148.6}{1430}{默认就是自动提交模式，如果不显式指定，每个查询都会被当作事务来执行提交操作，\\可以通过AUTOCOMMIT变量来设置，MySql可以设置隔离级别，在下次查询时生效。}
	\kid{c24}{c243}{2057.6}{1471.7}{不建议混合使用存储引擎，对事务的支持不一致，回滚的时候会与期望不一致}
	\kid{c24}{c244}{2057.6}{1505}{服务器层面可以指定锁语句来代替存储引擎层面的实现，但是没必要，尤其是针对\\InnoDB存储引擎}
	\kid{c}{c3}{1968}{1539}{多版本并发控制 MVCC}
	\kid{c3}{c31}{2051}{1582}{乐观锁并发控制}
	\kid{c3}{c32}{2051}{1607}{悲观锁并发控制}
	\kid{c3}{c33}{2051}{1632}{两个隐藏列：创建时间、销毁时间，实际是版本号}
	\kid{c3}{c34}{2051}{1657}{事务执行时记录当前版本号，与数据记录进行比较}
	\kid{c3}{c35}{2051}{1682}{优点：读操作不需要加锁、保证读到符合要求的行}
	\kid{c3}{c36}{2051}{1707}{缺点：额外占用两列，需要更多的行检查工作}
	\kid{c3}{c37}{2051}{1732}{工作在READ COMMIT和REPEATABLE READ两种隔离级别}
	\kid{c}{c4}{1968}{1755}{并发控制}
	\kid{c4}{c41}{2010}{1799}{两个层面：服务器与存储引擎}
	\kid{c41}{c411}{2113}{1842}{服务器层的策略高于存储引擎}
	\kid{c4}{c42}{2010}{1867}{读写锁}
	\kid{c42}{c421}{2042}{1911}{共享锁、读锁}
	\kid{c42}{c422}{2042}{1936}{排他锁、写锁}
	\kid{c4}{c43}{2010}{1960}{锁粒度}
	\kid{c43}{c431}{2047}{2003}{表锁 table lock}
	\kid{c431}{c4311}{2105}{2047}{开销最小}
	\kid{c431}{c4312}{2105}{2072}{alter table这样的语句会起作用}
	\kid{c43}{c432}{2047}{2096}{行级锁}
	\kid{c432}{c4321}{2081}{2139}{开销大}
	\kid{c432}{c4322}{2081}{2164}{只在存储引擎层实现}
	% query
	\kid{d}{d1}{2741.6}{180}{查询的生命周期}
	\kid{d1}{d11}{2802.6}{223}{客户端到服务器}
	\kid{d1}{d12}{2802.6}{248}{服务器解析，生成执行计划}
	\kid{d1}{d13}{2802.6}{273}{执行}
	\kid{d13}{d131}{2830}{316}{检索}
	\kid{d13}{d132}{2830}{341}{排序}
	\kid{d13}{d133}{2830}{366}{分组}
	\kid{d1}{d14}{2802.6}{391}{返回客户端结果}
	\kid{d1}{d15}{2802.6}{416}{衡量查询开销的指标（可以查看慢日志）}
	\kid{d15}{d151}{2934}{459}{响应时间}
	\kid{d15}{d152}{2934}{484}{扫描的行数}
	\kid{d15}{d153}{2934}{509}{返回的行数}
	\kid{d}{d2}{2741.6}{534}{慢查询基础：优化数据访问}
	\kid{d2}{d21}{2836.6}{577}{是否访问了超过需求的数据：多余的行或列}
	\kid{d21}{d211}{2977.5}{620}{适当采用limit}
	\kid{d21}{d212}{2977.5}{645}{多表关联时返回全部列}
	\kid{d21}{d213}{2977.5}{670}{总是取出全部列}
	\kid{d21}{d214}{2977.5}{695}{重复查询相同的数据}
	\kid{d2}{d22}{2836.6}{720}{是否扫描额外的数据}
	\kid{d22}{d221}{2911.6}{763}{响应时间}
	\kid{d221}{d2211}{2952.6}{806.6}{服务时间}
	\kid{d221}{d2212}{2952.6}{831}{排队s时间}
	\kid{d22}{d222}{2911.6}{855.6}{扫描的行数}
	\kid{d222}{d2221}{2959}{899}{不同的行访问开销并不一样}
	\kid{d222}{d2222}{2959}{924}{结果行数与扫描的行数的比例在1：1到10：1之间}
	\kid{d22}{d223}{2911.6}{949}{访问的类型}
	\kid{d223}{d2231}{2959}{991}{explain中的type类型}
	\kid{d223}{d2232}{2959}{1017}{索引覆盖查询、改变库表结构、重写查询等操作}
	\kid{d}{d3}{2741.6}{1042}{重构查询的方式}
	\kid{d3}{d31}{2802.6}{1085}{选择一个复杂查询还是多个简单查询}
	\node[leafbox,minimum width=11pt,minimum height=23pt,inner sep=0pt] (d311) at (2924.5,1129) {};
	\draw[link] (d31.south) |- (d311.west);
	\kid{d3}{d32}{2802.6}{1155}{切分查询}
	\kid{d3}{d33}{2802.6}{1180}{分解关联查询}
	\kid{d33}{d331}{2857}{1223}{缓存的效率更高}
	\kid{d33}{d332}{2857}{1248}{执行单个查询锁的竞争更小}
	\kid{d33}{d333}{2857}{1273}{应用层做关联更容易做到高性能与可扩展}
	\kid{d33}{d334}{2857}{1298}{查询效率提升}
	\kid{d33}{d335}{2857}{1323}{减少冗余记录的查询}
	\kid{d}{d4}{2741.6}{1348}{查询执行的基础}
	% query path figure
	\blok[frameblk]{2802.6}{1380.6}{3210}{1709}{d41}
	\draw[link] (d4.south) |- (d41.west);
	\fill[black!3] (2803.5,1381.5) rectangle (3209.5,1403.6);
	\node[font=\bodyfont,text=inktext,inner sep=0pt] (d41t) at (3005.7,1391) {查询执行的路径};
	\blok[line width=.7pt,draw=black!60]{2815.4}{1413.8}{3194.4}{1703}{pf}
	\blok[dotblk,line width=.6pt]{2939}{1420.4}{3138.4}{1697.3}{sv}
	\node[minitext] (svt) at (2961,1426) {MySQL 服务器};
	\node[circle,draw,line width=.6pt,minimum size=12pt,inner sep=0pt] (uh) at (2882,1449) {};
	\draw[line width=.6pt,fill=white] (2871,1466) .. controls (2871,1454) and (2893,1454) .. (2893,1466) -- cycle;
	\node[minitext] (uht) at (2882,1471) {客户端};
	\node[minitext] (prt) at (2913.7,1443) {客户端/服务器\\通信协议};
	\coordinate (pra) at (2894.6,1453);
	\draw[thintip,{Stealth[length=3.5pt,width=3pt]}-{Stealth[length=3.5pt,width=3pt]}] (pra) -- (sv.west |- pra);
	\blokt[grayblk]{2971.7}{1440}{2993.3}{1468.4}{hc}{查询\\缓存}
	\blokt[grayblk,fill=black!15]{3010}{1449}{3032.7}{1460.7}{jx}{解析器}
	\smalltree{ta}{3061.7}{1446.4}
	\blokt[grayblk,fill=black!12]{3092.4}{1447}{3129.3}{1460.7}{yc}{预处理器}
	\smalltree{tb}{3110}{1480.6}
	\blokt[grayblk]{3092.4}{1516.3}{3129.3}{1537}{ym}{查询\\优化器}
	\blok[line width=.6pt]{3102}{1555.6}{3119.7}{1568}{jh}
	\blokt[grayblk]{3025.6}{1589.8}{3129.7}{1612.7}{zx}{查询执行引擎}
	\blokt[grayblk,fill=black!18]{3025.6}{1628.7}{3069.6}{1689}{ck}{}
	\node[minitext] (ckt) at (3046,1634.3) {存储引擎};
	\blokt[grayblk,fill=white]{3034}{1641.7}{3060.5}{1652.7}{ck1}{MyISAM}
	\blokt[grayblk,fill=white]{3034}{1655.3}{3060.5}{1666}{ck2}{InnoDB}
	\blokt[grayblk,fill=white]{3034}{1669}{3060.5}{1679.3}{ck3}{etc...}
	\node[cyl,minimum height=33pt,minimum width=29pt,line width=.6pt,fill=black!8,font=\minifont] (db) at (3113.5,1656) {数据};
	\node[minitext] (sqt) at (2953.5,1445) {SQL};
	\node[minitext] (rt1) at (2957,1461.7) {结果};
	\node[minitext] (rt2) at (2981,1550) {结果};
	\node[minitext] (pst) at (3068.7,1484) {解析树};
	\node[minitext] (plt) at (3058.8,1561.7) {查询执行计划};
	\node[minitext] (apt) at (3024,1620) {API 接口调用};
	\draw[thintip] (sv.west |- 0,1450.5) -- (hc.west |- 0,1450.5);
	\draw[thintip] (hc.west |- 0,1456.6) -- (sv.west |- 0,1456.6);
	\draw[thintip] (hc.east |- jx.west) -- (jx.west);
	\draw[thintip] (jx.east) -- (taa.west |- jx.east);
	\draw[thintip] (tac.east |- yc.west) -- (yc.west);
	\draw[thintip] (yc.south) -- (tbt.north);
	\draw[thintip] (pst.north) -- (tab.south);
	\draw[thintip] (pst.east) -- (tba.west |- pst.east);
	\draw[thintip] (tbb.south) -- (ym.north);
	\draw[thintip] (ym.south) -- (jh.north -| ym.south);
	\draw[thintip] (plt.east) -- (jh.west |- plt.east);
	\draw[thintip] (jh.south) -- (zx.north -| jh.south);
	\draw[thintip] (3045,0 |- zx.south) -- (3045,0 |- ck.north);
	\draw[thintip] (ck.east) -- (db.west |- ck.east);
	\draw[thintip] (zx.west) -| (2971.3,1499) -- (sv.west |- 0,1499);
	\draw[thintip] (2959,1499) |- (2981.7,1484.7) -- (2981.7,0 |- hc.south);
	% rest of query
	\kid{d4}{d42}{2802.6}{1723.7}{MySQl C/S协议}
	\kid{d42}{d421}{2864}{1767}{半双工}
	\kid{d42}{d422}{2864}{1792}{一次性获取所有数据，因此要限制数据量}
	\kid{d42}{d423}{2864}{1817}{查询状态}
	\kid{d4}{d43}{2802.6}{1842}{查询缓存}
	\kid{d4}{d44}{2802.6}{1867}{查询优化处理}
	\kid{d4}{d45}{2802.6}{1892}{查询执行引擎}
	\kid{d4}{d46}{2802.6}{1917}{返回结果}
	\kid{d}{d5}{2741.6}{1942}{查询优化器的局限性}
	\kid{d}{d6}{2741.6}{1967}{查询优化器d的提示}
	\kid{d}{d7}{2741.6}{1992}{优化特定类型的查询}
	% advanced
	\kid{e}{e1}{3353.4}{179.5}{分区表}
	\kid{e1}{e11}{3388.5}{222.6}{场景}
	\kid{e11}{e111}{3416.4}{265.7}{表非常大，热点数据较少}
	\kid{e11}{e112}{3416.4}{290.6}{分区表更易维护}
	\kid{e11}{e113}{3416.4}{315.5}{可以分布在不同的物理设备中，高效利用多个硬件设备}
	\kid{e11}{e114}{3416.4}{340}{便于备份、恢复独立的分区}
	\kid{e1}{e12}{3388.5}{365}{局限}
	\kid{e12}{e121}{3416.4}{408}{一个表最多1024个分区}
	\kid{e12}{e122}{3416.4}{433}{mysql5.1里分区表达式的返回值必须是整数}
	\kid{e12}{e123}{3416.4}{458}{分区字段需要包含所有的索引或主键}
	\kid{e12}{e124}{3416.4}{484}{分区表无法使用外键约束}
	\kid{e1}{e13}{3388.5}{508.7}{原理}
	\kid{e13}{e131}{3416.4}{552}{对应用层透明，由多个底层表实现}
	\kid{e13}{e132}{3416.4}{577}{每个操作都会先打开并锁住所有底层表}
	\kid{e1}{e14}{3388.5}{601.6}{类型}
	\kid{e14}{e141}{3416.4}{644.7}{键值}
	\kid{e14}{e142}{3416.4}{669.6}{哈希}
	\kid{e14}{e143}{3416.4}{694}{列表分区、子分区}
	\kid{e1}{e15}{3388.5}{719}{限制}
	\kid{e15}{e151}{3416.4}{762}{所有底层表必须使用同一个存储引擎}
	\kid{e15}{e152}{3416.4}{787}{选择分区的成本可能很高}
	\kid{e15}{e153}{3416.4}{812}{打开并锁住所有底层表的成本可能很高}
	\kid{e15}{e154}{3416.4}{837}{维护分区表的成本可能很高}
	\kid{e}{e2}{3353.4}{863}{视图}
	\kid{e}{e3}{3353.4}{887.6}{外键约束}
	\kid{e}{e4}{3353.4}{912.5}{MySql内部存储代码}
	\kid{e}{e5}{3353.4}{937.4}{游标}
	\kid{e}{e6}{3353.4}{962}{绑定变量（prepared statement）}
	\kid{e6}{e61}{3467.4}{1005}{优点}
	\kid{e61}{e611}{3495.6}{1048.5}{服务端只需要解析一次SQL语句}
	\kid{e61}{e612}{3495.6}{1073}{优化器只需要执行一次}
	\kid{e61}{e613}{3495.6}{1098}{以二进制的形式发送参数和句柄，效率更高}
	\kid{e61}{e614}{3495.6}{1123}{每次调用仅发送参数，网络开销小}
	\kid{e61}{e615}{3495.6}{1149}{安全，降低SQL注入和攻击的风险}
	\kid{e6}{e62}{3467.4}{1174}{局限}
	\kid{e62}{e621}{3495.6}{1217}{绑定变量是会话级的，断开连接后，绑定变量失效}
	\kid{e62}{e622}{3495.6}{1242}{只执行一次的话，不能节省开销}
	\kid{e}{e7}{3353.4}{1266.6}{用户自定义函数}
	\kid{e}{e8}{3353.4}{1291.5}{查询缓存}
	\kid{e}{e9}{3353.4}{1316}{全文索引}
	% collapse marks
	\foreach \n in {a,a1,a12,a13,a14,a141,a142,a143,a144,a15,a16,a162,a163,a17,a172,a18,a19,a2,a3,a5,b,b1,b3,b4,b45,b454,b455,b46,b462,b47,b48,c,c1,c12,c2,c21,c22,c221,c222,c223,c224,c23,c24,c242,c3,c4,c41,c42,c43,c431,c432,d,d1,d13,d15,d2,d21,d22,d221,d222,d223,d3,d31,d33,d4,d42,e,e1,e11,e12,e13,e14,e15,e6,e61,e62}{
		\node[tgl] (t\n) at ($(\n.south)+(0,7)$) {};
		\draw[tgmark] ($(t\n.center)+(-2.5,0)$) -- ($(t\n.center)+(2.5,0)$);
	}
	\foreach \n in {b2,b21,b211,b2111,b2112,b212,b213,b214,b22,b221,b2211,b22111,b2212,b222,b223,b224}{
		\node[tgl] (t\n) at ($(\n.south east)+(-7,-11.4)$) {};
		\draw[tgmark] ($(t\n.center)+(-2.5,0)$) -- ($(t\n.center)+(2.5,0)$);
	}
	% site mark
	\node[draw=markgray,line width=3pt,rounded corners=8pt,minimum size=62pt,font=\fontsize{38}{40}\selectfont,text=markgray,inner sep=0pt] (wm) at (3488,2476) {脉};
	\node[anchor=west,font=\fontsize{53}{55}\selectfont,text=markgray,inner sep=0pt] (wmt) at (3534,2478) {maimai.cn};
\end{tikzpicture}
\end{document}
